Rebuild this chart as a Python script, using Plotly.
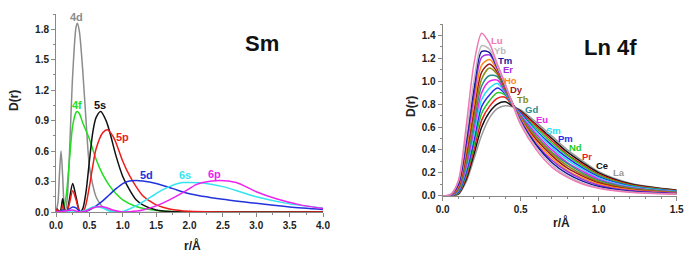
import plotly.graph_objects as go

# ---------------- Left panel: Sm orbitals ----------------
r_4d = [0, 0.03, 0.05, 0.075, 0.10, 0.125, 0.14, 0.17, 0.2, 0.25, 0.3, 0.32, 0.35, 0.4, 0.45, 0.5, 0.55, 0.6, 0.7, 0.8, 1.0, 4.0]
d_4d = [0, 0.1, 0.35, 0.6, 0.35, 0.03, 0.0, 0.15, 0.55, 1.35, 1.82, 1.86, 1.78, 1.4, 0.9, 0.45, 0.27, 0.15, 0.05, 0.015, 0, 0]

r_4f = [0, 0.1, 0.15, 0.2, 0.25, 0.3, 0.32, 0.35, 0.4, 0.5, 0.6, 0.7, 0.8, 0.9, 1.0, 1.2, 1.4, 1.6, 2.0, 4.0]
d_4f = [0, 0.02, 0.15, 0.5, 0.85, 0.98, 0.99, 0.97, 0.88, 0.72, 0.52, 0.37, 0.26, 0.18, 0.12, 0.055, 0.025, 0.01, 0.002, 0]

r_5s = [0, 0.02, 0.04, 0.07, 0.1, 0.13, 0.16, 0.2, 0.25, 0.3, 0.36, 0.4, 0.45, 0.5, 0.55, 0.6, 0.67, 0.75, 0.8, 0.9, 1.0, 1.1, 1.2, 1.3, 1.5, 1.7, 2.0, 4.0]
d_5s = [0, 0.03, 0.0, 0.02, 0.13, 0.02, 0.0, 0.12, 0.28, 0.15, 0.0, 0.03, 0.2, 0.5, 0.78, 0.93, 0.99, 0.9, 0.8, 0.55, 0.35, 0.22, 0.12, 0.07, 0.02, 0.005, 0, 0]

r_5p = [0, 0.02, 0.04, 0.08, 0.1, 0.12, 0.16, 0.2, 0.25, 0.3, 0.36, 0.42, 0.5, 0.55, 0.6, 0.7, 0.77, 0.85, 0.9, 1.0, 1.1, 1.2, 1.3, 1.4, 1.5, 1.7, 2.0, 4.0]
d_5p = [0, 0.03, 0, 0.02, 0.07, 0.02, 0, 0.08, 0.21, 0.12, 0.0, 0.02, 0.25, 0.45, 0.62, 0.78, 0.81, 0.75, 0.68, 0.5, 0.36, 0.25, 0.16, 0.11, 0.07, 0.03, 0.007, 0]

r_5d = [0, 0.05, 0.1, 0.15, 0.2, 0.25, 0.3, 0.35, 0.4, 0.5, 0.6, 0.7, 0.8, 0.9, 1.0, 1.1, 1.2, 1.3, 1.5, 1.75, 2.0, 2.5, 3.0, 3.5, 4.0]
d_5d = [0, 0.005, 0.02, 0.01, 0.03, 0.05, 0.04, 0.01, 0.0, 0.02, 0.06, 0.11, 0.17, 0.23, 0.28, 0.305, 0.31, 0.305, 0.28, 0.23, 0.18, 0.125, 0.085, 0.05, 0.025]

r_6s = [0, 0.1, 0.25, 0.3, 0.45, 0.55, 0.6, 0.7, 0.8, 0.95, 1.0, 1.1, 1.2, 1.3, 1.4, 1.5, 1.6, 1.7, 1.8, 1.9, 2.0, 2.2, 2.5, 2.8, 3.0, 3.5, 4.0]
d_6s = [0, 0.005, 0.01, 0.0, 0.02, 0.05, 0.055, 0.04, 0.01, 0.0, 0.005, 0.03, 0.06, 0.1, 0.14, 0.18, 0.22, 0.25, 0.275, 0.29, 0.29, 0.285, 0.25, 0.19, 0.15, 0.08, 0.04]

r_6p = [0, 0.1, 0.25, 0.3, 0.35, 0.45, 0.55, 0.65, 0.75, 0.85, 1.0, 1.1, 1.3, 1.5, 1.7, 1.9, 2.1, 2.2, 2.45, 2.7, 3.0, 3.3, 3.66, 4.0]
d_6p = [0, 0.005, 0.02, 0.01, 0.0, 0.01, 0.04, 0.055, 0.045, 0.02, 0.0, 0.003, 0.02, 0.06, 0.12, 0.19, 0.27, 0.29, 0.31, 0.29, 0.2, 0.13, 0.07, 0.035]

orbitals = ["4d", "4f", "5s", "5p", "5d", "6s", "6p"]
orb_r = [r_4d, r_4f, r_5s, r_5p, r_5d, r_6s, r_6p]
orb_d = [d_4d, d_4f, d_5s, d_5p, d_5d, d_6s, d_6p]
orb_colors = ["#8c8c8c", "#22dd22", "#111111", "#ee1c1c", "#2233dd", "#33e5f0", "#ee22ee"]
orb_label_r = [0.31, 0.31, 0.66, 1.0, 1.36, 1.93, 2.38]
orb_label_d = [1.92, 1.05, 1.05, 0.74, 0.36, 0.36, 0.37]

# ---------------- Right panel: Ln 4f ----------------
r_ln = [0, 0.05, 0.1, 0.15, 0.2, 0.25, 0.3, 0.35, 0.4, 0.45, 0.5, 0.6, 0.7, 0.8, 0.9, 1.0, 1.2, 1.5]
d_La = [0, 0, 0.01, 0.12, 0.32, 0.53, 0.68, 0.76, 0.785, 0.775, 0.75, 0.64, 0.52, 0.40, 0.30, 0.21, 0.11, 0.05]
d_Ce = [0, 0, 0.015, 0.14, 0.36, 0.60, 0.73, 0.80, 0.82, 0.78, 0.74, 0.62, 0.50, 0.38, 0.285, 0.20, 0.104, 0.047]
d_Pr = [0, 0, 0.02, 0.16, 0.40, 0.66, 0.78, 0.85, 0.86, 0.785, 0.73, 0.61, 0.48, 0.36, 0.27, 0.188, 0.098, 0.044]
d_Nd = [0, 0, 0.025, 0.18, 0.44, 0.72, 0.83, 0.90, 0.88, 0.79, 0.72, 0.59, 0.46, 0.35, 0.256, 0.178, 0.092, 0.042]
d_Pm = [0, 0, 0.03, 0.20, 0.48, 0.78, 0.88, 0.94, 0.89, 0.79, 0.72, 0.57, 0.44, 0.33, 0.24, 0.167, 0.086, 0.039]
d_Sm = [0, 0, 0.04, 0.23, 0.53, 0.84, 0.94, 0.98, 0.90, 0.795, 0.71, 0.56, 0.42, 0.31, 0.227, 0.156, 0.08, 0.036]
d_Eu = [0, 0, 0.045, 0.25, 0.58, 0.90, 1.00, 1.01, 0.91, 0.80, 0.70, 0.54, 0.40, 0.29, 0.212, 0.145, 0.074, 0.033]
d_Gd = [0, 0.002, 0.05, 0.28, 0.63, 0.96, 1.05, 1.04, 0.92, 0.80, 0.69, 0.52, 0.38, 0.28, 0.198, 0.135, 0.069, 0.031]
d_Tb = [0, 0.003, 0.06, 0.31, 0.68, 1.02, 1.115, 1.06, 0.93, 0.80, 0.68, 0.51, 0.37, 0.26, 0.183, 0.124, 0.063, 0.028]
d_Dy = [0, 0.004, 0.07, 0.35, 0.74, 1.08, 1.15, 1.08, 0.94, 0.80, 0.67, 0.49, 0.35, 0.24, 0.169, 0.113, 0.057, 0.025]
d_Ho = [0, 0.005, 0.08, 0.39, 0.80, 1.14, 1.19, 1.10, 0.95, 0.80, 0.67, 0.47, 0.33, 0.22, 0.154, 0.102, 0.051, 0.022]
d_Er = [0, 0.006, 0.09, 0.43, 0.87, 1.21, 1.23, 1.11, 0.955, 0.80, 0.66, 0.45, 0.31, 0.21, 0.14, 0.092, 0.045, 0.02]
d_Tm = [0, 0.008, 0.10, 0.47, 0.93, 1.26, 1.25, 1.12, 0.96, 0.80, 0.65, 0.44, 0.29, 0.19, 0.125, 0.081, 0.039, 0.017]
d_Yb = [0, 0.01, 0.12, 0.52, 1.00, 1.31, 1.28, 1.13, 0.965, 0.80, 0.64, 0.42, 0.27, 0.17, 0.11, 0.07, 0.033, 0.014]
d_Lu = [0, 0.01, 0.13, 0.60, 1.15, 1.42, 1.33, 1.15, 0.98, 0.79, 0.62, 0.40, 0.25, 0.16, 0.10, 0.065, 0.03, 0.013]

elements = ["La", "Ce", "Pr", "Nd", "Pm", "Sm", "Eu", "Gd", "Tb", "Dy", "Ho", "Er", "Tm", "Yb", "Lu"]
el_d = [d_La, d_Ce, d_Pr, d_Nd, d_Pm, d_Sm, d_Eu, d_Gd, d_Tb, d_Dy, d_Ho, d_Er, d_Tm, d_Yb, d_Lu]
el_colors = ["#9a9a9a", "#111111", "#ee1c1c", "#22cc22", "#2a2aee", "#22e0f5", "#ee22ee", "#2a8c8c",
             "#8c8c10", "#a01818", "#ff8a10", "#a030e0", "#16169c", "#bcbcbc", "#f078b4"]
el_label_r = [1.13, 1.023, 0.927, 0.854, 0.788, 0.713, 0.638, 0.57, 0.517, 0.47, 0.436, 0.417, 0.40, 0.367, 0.346]
el_label_d = [0.204, 0.26, 0.34, 0.42, 0.50, 0.573, 0.67, 0.757, 0.84, 0.93, 1.01, 1.10, 1.18, 1.27, 1.36]

left_yticks = [0.0, 0.3, 0.6, 0.9, 1.2, 1.5, 1.8]
left_xticks = [0.0, 0.5, 1.0, 1.5, 2.0, 2.5, 3.0, 3.5, 4.0]
right_yticks = [0.0, 0.2, 0.4, 0.6, 0.8, 1.0, 1.2, 1.4]
right_xticks = [0.0, 0.5, 1.0, 1.5]

W, H = 700, 253
def px(x):
    return x / W
def py(y):
    return 1 - y / H

fig = go.Figure()
for name, rr, dd, c in zip(orbitals, orb_r, orb_d, orb_colors):
    fig.add_trace(go.Scatter(x=rr, y=dd, mode="lines", name=name, line=dict(color=c, width=1.5, shape="spline", smoothing=0.8),
                             xaxis="x", yaxis="y", showlegend=False))
for name, dd, c in zip(elements, el_d, el_colors):
    fig.add_trace(go.Scatter(x=r_ln, y=dd, mode="lines", name=name, line=dict(color=c, width=1.5, shape="spline", smoothing=0.8),
                             xaxis="x2", yaxis="y2", showlegend=False))

tickfont = dict(family="Liberation Sans, Arial", size=10, color="#222", weight="bold")
axcommon = dict(showline=True, linecolor="#888", linewidth=1, ticks="outside", ticklen=4, tickcolor="#888",
                showgrid=False, zeroline=False, tickfont=tickfont, mirror=False, automargin=False)

fig.update_layout(
    template="none",
    width=W, height=H, margin=dict(l=0, r=0, t=0, b=0, autoexpand=False),
    paper_bgcolor="white", plot_bgcolor="white",
    xaxis=dict(domain=[px(56), px(323)], range=[0, 4.0], tickvals=left_xticks,
               ticktext=[f"{v:.1f}" for v in left_xticks], anchor="y",
               minor=dict(dtick=0.25, ticks="outside", ticklen=2, tickcolor="#888"), **axcommon),
    yaxis=dict(domain=[py(212), py(14)], range=[0, 1.95], tickvals=left_yticks,
               ticktext=[f"{v:.1f}" for v in left_yticks], anchor="x",
               minor=dict(dtick=0.15, ticks="outside", ticklen=2, tickcolor="#888"), **axcommon),
    xaxis2=dict(domain=[px(442.7), px(676.7)], range=[0, 1.5], tickvals=right_xticks,
                ticktext=[f"{v:.1f}" for v in right_xticks], anchor="y2",
                minor=dict(dtick=0.1, ticks="outside", ticklen=2, tickcolor="#888"), **axcommon),
    yaxis2=dict(domain=[py(195.7), py(24)], range=[0, 1.5], tickvals=right_yticks,
                ticktext=[f"{v:.1f}" for v in right_yticks], anchor="x2",
                minor=dict(dtick=0.1, ticks="outside", ticklen=2, tickcolor="#888"), **axcommon),
)

labfont = dict(family="Liberation Sans, Arial", size=11, weight="bold")
for name, lr, ld, c in zip(orbitals, orb_label_r, orb_label_d, orb_colors):
    fig.add_annotation(x=lr, y=ld, xref="x", yref="y", text=name, showarrow=False,
                       xanchor="center", yanchor="middle", font=dict(color=c, **labfont))
labfont2 = dict(family="Liberation Sans, Arial", size=9.5, weight="bold")
for name, lr, ld, c in zip(elements, el_label_r, el_label_d, el_colors):
    fig.add_annotation(x=lr, y=ld, xref="x2", yref="y2", text=name, showarrow=False,
                       xanchor="center", yanchor="middle", font=dict(color=c, **labfont2))

big = dict(family="Liberation Sans, Arial", size=22, color="#111", weight="bold")
fig.add_annotation(x=px(262), y=py(43), xref="paper", yref="paper", text="Sm", showarrow=False,
                   xanchor="center", yanchor="middle", font=big)
fig.add_annotation(x=px(610), y=py(47), xref="paper", yref="paper", text="Ln 4f", showarrow=False,
                   xanchor="center", yanchor="middle", font=big)

axt = dict(family="Liberation Sans, Arial", size=12, color="#222", weight="bold")
for tx, ty, txt, ang in [(14, 101, "D(r)", -90), (193, 245, "r/Å", 0), (411, 107, "D(r)", -90), (561, 222, "r/Å", 0)]:
    fig.add_annotation(x=px(tx), y=py(ty), xref="paper", yref="paper", text=txt, showarrow=False,
                       xanchor="center", yanchor="middle", font=axt, textangle=ang)

fig.write_html("out.html", config={"displayModeBar": False},
               post_script="document.body.style.margin='0';")
